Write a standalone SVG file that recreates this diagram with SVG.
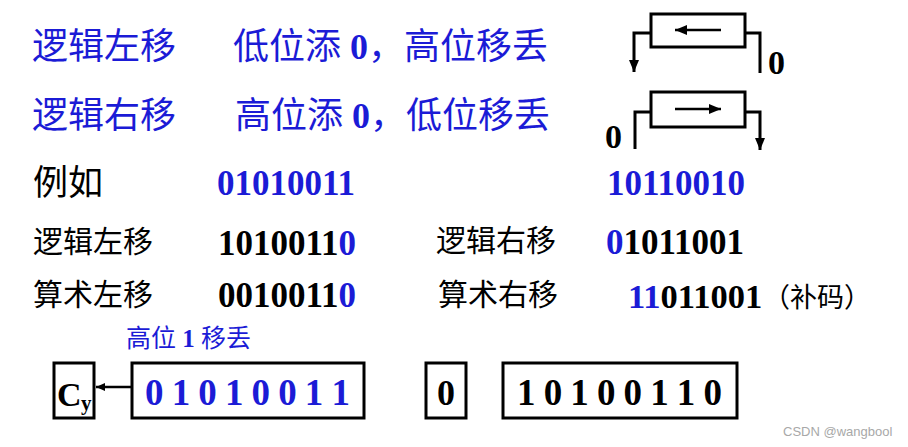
<svg xmlns="http://www.w3.org/2000/svg" width="908" height="447" viewBox="0 0 908 447">
<style>
.cn{font-family:'Liberation Serif','Noto Sans CJK SC',serif;font-weight:normal}
.blue{fill:#1b1bd6}
.blk{fill:#000}
.num{font-family:'Liberation Serif',serif;font-weight:bold}
.box{fill:#fff;stroke:#000;stroke-width:3}
.wire{fill:none;stroke:#000;stroke-width:3}
.thin{fill:none;stroke:#000;stroke-width:2.5}
.wm{font-family:'Liberation Sans',Arial,sans-serif;fill:#a8a8a8}
</style>
<defs>
<marker id="ah" viewBox="0 0 12 10" refX="12" refY="5" markerWidth="12" markerHeight="10" markerUnits="userSpaceOnUse" orient="auto">
<path d="M0,0 L12,5 L0,10 z" fill="#000"/>
</marker>
<marker id="ahs" viewBox="0 0 9 8" refX="9" refY="4" markerWidth="9" markerHeight="8" markerUnits="userSpaceOnUse" orient="auto">
<path d="M0,0 L9,4 L0,8 z" fill="#000"/>
</marker>
</defs>
<rect width="908" height="447" fill="#fff"/>

<g id="title-left">
<text x="32" y="59" class="cn blue" font-size="36">逻辑左移</text>
<text x="233" y="59" class="cn blue" font-size="36">低位添 <tspan class="num">0</tspan>，高位移丢</text>
</g>
<g id="title-right">
<text x="32" y="128" class="cn blue" font-size="36">逻辑右移</text>
<text x="235" y="128" class="cn blue" font-size="36">高位添 <tspan class="num">0</tspan>，低位移丢</text>
</g>

<g id="reg-left">
<rect x="651" y="14" width="94" height="33" class="box"/>
<text x="768" y="74" class="num blk" font-size="34">0</text>
</g>
<g id="reg-right">
<rect x="651" y="92" width="94" height="35" class="box"/>
<text x="605" y="148" class="num blk" font-size="34">0</text>
</g>

<g id="example">
<text x="33" y="195" class="cn blk" font-size="35">例如</text>
<text x="217" y="195" class="num blue" font-size="35">01010011</text>
<text x="607" y="195" class="num blue" font-size="35">10110010</text>
</g>
<g id="logic-left">
<text x="33" y="252" class="cn blk" font-size="30">逻辑左移</text>
<text x="218" y="255" class="num blk" font-size="35">1010011<tspan class="blue">0</tspan></text>
</g>
<g id="arith-left">
<text x="33" y="305" class="cn blk" font-size="30">算术左移</text>
<text x="218" y="307" class="num blk" font-size="35">0010011<tspan class="blue">0</tspan></text>
</g>
<g id="logic-right">
<text x="436" y="251" class="cn blk" font-size="30">逻辑右移</text>
<text x="606" y="254" class="num blk" font-size="35"><tspan class="blue">0</tspan>1011001</text>
</g>
<g id="arith-right">
<text x="438" y="305" class="cn blk" font-size="30">算术右移</text>
<text x="628" y="308" class="num blk" font-size="34.5"><tspan class="blue">11</tspan>011001</text>
<text x="763" y="307" class="cn blk" font-size="27">（补码）</text>
</g>

<g id="lost-label">
<text x="126" y="347" class="cn blue" font-size="25">高位 <tspan class="num">1</tspan> 移丢</text>
</g>
<g id="cy">
<rect x="54" y="363" width="40" height="55" class="box"/>
<text x="57" y="406" class="num blk" font-size="34">C</text>
<text x="81" y="410" class="num blk" font-size="21">y</text>
</g>
<g id="reg-a">
<rect x="132" y="363" width="232" height="55" class="box"/>
<text x="145" y="405" class="num blue" font-size="37" textLength="205" lengthAdjust="spacing">0 1 0 1 0 0 1 1</text>
</g>
<g id="zero">
<rect x="426" y="363" width="40" height="55" class="box"/>
<text x="446" y="405" class="num blk" font-size="36" text-anchor="middle">0</text>
</g>
<g id="reg-b">
<rect x="503" y="363" width="234" height="55" class="box"/>
<text x="517" y="405" class="num blk" font-size="37" textLength="205" lengthAdjust="spacing">1 0 1 0 0 1 1 0</text>
</g>

<g id="connectors">
<path d="M651,33 H634 V72" class="wire" marker-end="url(#ah)"/>
<path d="M745,33 H760 V73" class="wire"/>
<path d="M721,30 H675" class="thin" marker-end="url(#ah)"/>
<path d="M651,112 H635 V149" class="wire"/>
<path d="M745,112 H760 V150" class="wire" marker-end="url(#ah)"/>
<path d="M675,109 H721" class="thin" marker-end="url(#ah)"/>
<path d="M132,387 H96" class="thin" marker-end="url(#ahs)"/>
</g>

<text x="783" y="436" class="wm" font-size="13">CSDN @wangbool</text>
</svg>
